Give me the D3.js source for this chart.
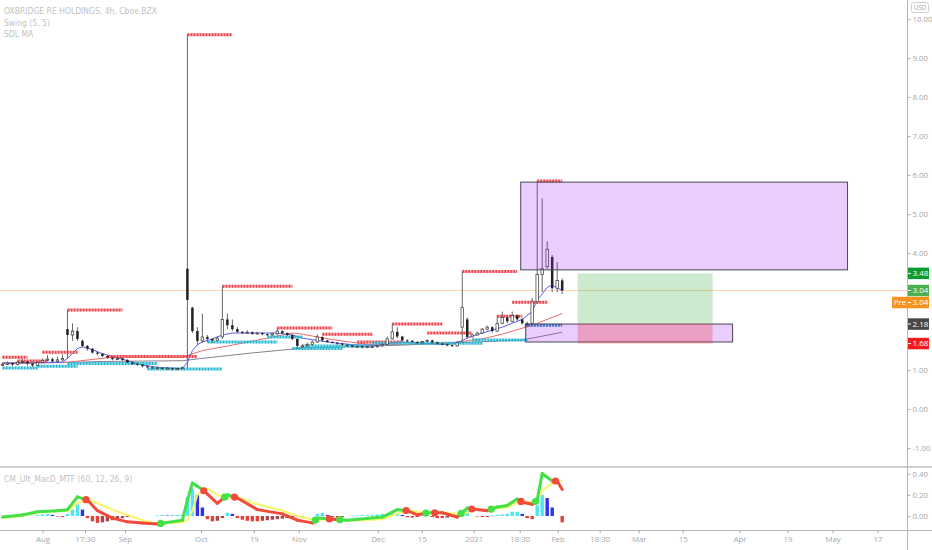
<!DOCTYPE html>
<html><head><meta charset="utf-8">
<script src="https://cdn.jsdelivr.net/npm/d3@7"></script>
<style>
body{margin:0;background:#fff}
svg{display:block}
text{font-family:"Open Sans","Noto Sans",sans-serif}
</style>
</head><body>
<svg id="c" width="932" height="550"></svg>
<script>
// ---------- DATA ----------
const titleLines = ["OXBRIDGE RE HOLDINGS, 4h, Cboe BZX", "Swing (5, 5)", "SDL MA"];
const macdTitle = "CM_Ult_MacD_MTF (60, 12, 26, 9)";

const opens = [1.12,1.15,1.18,1.14,1.2,1.22,1.17,1.12,1.2,1.25,
1.28,1.22,1.26,2.05,1.9,2.0,1.75,1.62,1.55,1.45,
1.42,1.36,1.32,1.28,1.3,1.26,1.2,1.16,1.14,1.1,
1.07,1.05,1.06,1.04,1.05,1.02,1.04,3.6,2.6,2.0,
1.75,1.85,1.8,1.76,1.85,2.3,2.15,2.05,1.98,1.95,
1.97,1.93,1.95,1.92,1.9,1.93,2.0,1.95,1.9,1.8,
1.62,1.62,1.66,1.72,1.85,1.76,1.72,1.7,1.68,1.65,
1.63,1.6,1.61,1.58,1.6,1.6,1.62,1.66,1.8,1.98,
1.86,1.76,1.75,1.72,1.7,1.73,1.76,1.71,1.68,1.66,
1.64,1.62,2.1,2.3,1.85,1.9,1.95,2.05,2.1,2.0,
2.2,2.35,2.25,2.4,2.3,2.2,2.2,2.75,3.45,3.65,
3.9,3.1,3.3];
const highs = [1.2,1.22,1.2,1.24,1.28,1.24,1.2,1.24,1.3,1.38,
1.32,1.34,1.4,2.54,2.2,2.1,1.78,1.64,1.56,1.48,
1.44,1.38,1.34,1.34,1.32,1.28,1.22,1.2,1.16,1.12,
1.1,1.09,1.08,1.08,1.07,1.06,1.09,9.6,2.62,2.1,
2.45,1.9,1.82,1.86,3.15,2.45,2.3,2.1,2.0,2.02,
1.99,1.98,1.97,1.94,1.96,2.08,2.02,1.97,1.92,1.82,
1.66,1.7,1.76,1.92,1.86,1.78,1.74,1.72,1.7,1.67,
1.65,1.64,1.63,1.62,1.63,1.65,1.68,1.86,2.2,2.1,
1.88,1.79,1.77,1.74,1.75,1.79,1.78,1.73,1.7,1.68,
1.66,1.74,3.53,2.35,1.94,1.98,2.08,2.14,2.12,2.4,
2.5,2.38,2.5,2.43,2.33,2.24,2.85,5.85,5.4,4.3,
3.95,3.77,3.35];
const lows = [1.1,1.13,1.1,1.12,1.17,1.12,1.08,1.1,1.18,1.22,
1.18,1.2,1.24,1.3,1.75,1.75,1.58,1.5,1.42,1.38,
1.33,1.29,1.25,1.26,1.23,1.17,1.13,1.11,1.07,1.04,
1.02,1.03,1.01,1.02,0.99,1.0,1.02,1.05,1.95,1.65,
1.7,1.72,1.7,1.74,1.8,2.05,2.0,1.95,1.92,1.93,
1.9,1.91,1.89,1.87,1.88,1.9,1.92,1.87,1.77,1.55,
1.56,1.6,1.64,1.7,1.74,1.7,1.68,1.65,1.63,1.6,
1.57,1.58,1.55,1.56,1.57,1.58,1.6,1.64,1.78,1.82,
1.73,1.72,1.69,1.67,1.68,1.71,1.68,1.65,1.63,1.61,
1.59,1.6,1.7,1.8,1.83,1.88,1.93,2.02,1.96,1.98,
2.18,2.2,2.22,2.26,2.17,2.1,2.15,2.7,3.0,3.6,
3.0,3.0,2.95];
const closes = [1.15,1.18,1.14,1.2,1.22,1.17,1.12,1.2,1.25,1.28,
1.22,1.26,1.3,1.9,2.0,1.8,1.62,1.55,1.45,1.42,
1.36,1.32,1.28,1.3,1.26,1.2,1.16,1.14,1.1,1.07,
1.05,1.06,1.04,1.05,1.02,1.04,1.06,2.8,2.0,1.75,
1.85,1.8,1.76,1.82,2.3,2.15,2.05,1.98,1.95,1.97,
1.93,1.95,1.92,1.9,1.93,2.0,1.95,1.9,1.8,1.62,
1.62,1.66,1.72,1.85,1.76,1.72,1.7,1.68,1.65,1.63,
1.6,1.61,1.58,1.6,1.6,1.62,1.66,1.8,1.98,1.86,
1.76,1.75,1.72,1.7,1.73,1.76,1.71,1.68,1.66,1.64,
1.62,1.7,2.6,1.85,1.9,1.95,2.05,2.1,2.0,2.2,
2.35,2.25,2.4,2.3,2.2,2.15,2.75,3.45,3.6,4.1,
3.1,3.3,3.04];

// moving averages: [bar, value]
const fastMA = [[0,1.18],[12,1.2],[13,1.3],[15,1.55],[16,1.6],[18,1.52],[20,1.42],[22,1.35],[24,1.28],[26,1.2],[28,1.13],[30,1.09],[32,1.06],[36,1.04],[37,1.2],[38,1.5],[39,1.65],[40,1.72],[42,1.8],[44,1.9],[46,1.95],[55,1.95],[58,1.9],[60,1.82],[62,1.78],[65,1.72],[70,1.65],[75,1.63],[78,1.7],[80,1.72],[85,1.68],[89,1.65],[92,1.75],[93,1.83],[96,1.95],[100,2.1],[102,2.2],[104,2.3],[106,2.5],[107,2.8],[108,2.95],[109,3.12],[110,3.18],[111,3.1],[112,3.05]];
const midMA = [[0,1.18],[13,1.2],[22,1.33],[36,1.33],[40,1.5],[46,1.64],[53,1.82],[58,1.95],[60,1.92],[66,1.78],[73,1.66],[80,1.66],[90,1.7],[96,1.8],[100,1.92],[106,2.15],[112,2.45]];
const slowMA = [[0,1.16],[20,1.22],[36,1.24],[40,1.3],[50,1.44],[60,1.56],[80,1.64],[104,1.77],[112,1.97]];

// swing levels
const swingHighFrom  = [0,3,8,13,21,37,44,55,64,71,78,85,92,99,102,107];
const swingHighTo    = [5,9,15,24,39,46,58,66,74,80,88,94,103,104,109,112];
const swingHighPrice = [1.33,1.23,1.46,2.54,1.35,9.6,3.15,2.08,1.92,1.72,2.18,1.95,3.53,2.38,2.74,5.85];
const swingLowFrom  = [0,7,13,29,41,53,58,60,74,94,104.5];
const swingLowTo    = [7,15,31,44,55,60,68,74,96,105,112];
const swingLowPrice = [1.05,1.1,1.17,1.03,1.72,1.85,1.55,1.62,1.69,1.77,2.15];

// drawings
const zoneFrom = [103.7,104.7], zoneTo = [169.1,146.1], zoneHigh = [5.82,2.18], zoneLow = [3.57,1.72];
const posFrom = 115.1, posTo = 142.1, posEntry = 2.19, posTarget = 3.48, posStop = 1.68;
const lastPrice = 3.04;
const markerValues = [3.48, 3.04, 3.04, 2.18, 1.68];
const markerTags   = ["", "", "Pre", "", ""];

// MACD indicator: [bar, value]
const macdLine = [[0,-0.01],[4,0.01],[7,0.04],[11,0.05],[13,0.06],[15,0.18],[17,0.15],[19,0.05],[22,-0.02],[25,-0.055],[31,-0.075],[36,-0.04],[37,0.15],[38,0.31],[40,0.25],[43,0.12],[44,0.16],[45,0.2],[47,0.17],[51,0.06],[56,0.02],[59,-0.04],[62,-0.065],[63,-0.02],[66,-0.03],[69,-0.04],[76,-0.01],[79,0.06],[81,0.05],[83,0.01],[85,0.03],[88,0.03],[91,-0.01],[93,0.075],[94,0.065],[97,0.05],[99,0.085],[101,0.1],[103,0.16],[104,0.13],[106,0.11],[107,0.15],[108,0.4],[110,0.33],[111,0.33],[112,0.25]];
const signalLine = [[0,-0.02],[4,0.0],[7,0.03],[11,0.045],[13,0.05],[15,0.12],[17,0.16],[19,0.12],[22,0.06],[25,0.01],[28,-0.04],[31,-0.072],[36,-0.06],[37,-0.04],[38,0.05],[39,0.2],[41,0.26],[43,0.2],[44,0.18],[45,0.175],[47,0.18],[51,0.11],[56,0.05],[59,0.0],[62,-0.035],[63,-0.04],[66,-0.025],[69,-0.045],[76,-0.03],[79,0.02],[81,0.055],[83,0.04],[85,0.025],[88,0.035],[91,0.02],[93,0.03],[94,0.07],[97,0.06],[99,0.07],[101,0.08],[103,0.13],[104,0.14],[106,0.13],[107,0.14],[108,0.24],[110,0.31],[111,0.34],[112,0.33]];
const histValues = [0,0,0,0,0,0,0,0.01,0.015,0.02,
0.01,-0.005,-0.01,0.02,0.06,0.11,0.06,-0.02,-0.05,-0.065,
-0.06,-0.05,-0.04,-0.03,-0.02,-0.01,-0.005,0,0,0,
0,0.005,0.01,0.005,0.01,0.01,0.015,0.18,0.26,0.2,
0.08,-0.03,-0.05,-0.045,-0.02,0.03,0.02,-0.02,-0.035,-0.045,
-0.05,-0.05,-0.045,-0.04,-0.035,-0.03,-0.025,-0.02,-0.01,-0.01,
-0.005,0,0,0.02,0.03,0.01,-0.01,-0.015,-0.01,0,
0.005,0.005,0.01,0.01,0.01,0.015,0.02,0.02,0.025,0.03,
0.01,-0.01,-0.015,-0.01,0.005,0.01,-0.01,-0.02,-0.02,-0.015,
-0.01,-0.005,0.04,0.05,0,-0.005,-0.01,-0.01,0.005,0.01,
0.015,0.02,0.04,0.04,0.02,-0.02,-0.03,0.1,0.2,0.17,
0.08,0,-0.06];

const priceTicks = [-1,0,1,2,3,4,5,6,7,8,9,10];
const macdTicks = [0,0.2,0.4];
const timeTickBars = [8,16.5,24.5,39.7,50.3,59.3,75.1,83.9,94.3,103.5,111.1,119.5,127.3,136.1,147.5,157.1,166.1,175.1];
const timeTickLabels = ["Aug","17:30","Sep","Oct","19","Nov","Dec","15","2021","18:30","Feb","18:30","Mar","15","Apr","19","May","17"];

// ---------- LAYOUT ----------
const W = 932, H = 550, axisX = 907, mainBottom = 466, sepY = 467, timeY = 530;
const svg = d3.select("#c");
const x = d3.scaleLinear().domain([-0.5, 181]).range([0, axisX]);
const y = d3.scaleLinear().domain([-1.46, 10.49]).range([mainBottom, 0]);
const ym = d3.scaleLinear().domain([-0.132, 0.462]).range([timeY, sepY]);

const defs = svg.append("defs");
defs.append("clipPath").attr("id","mainClip").append("rect").attr("x",0).attr("y",0).attr("width",axisX).attr("height",mainBottom);
defs.append("clipPath").attr("id","macdClip").append("rect").attr("x",0).attr("y",sepY+1).attr("width",axisX).attr("height",timeY-sepY-1);

const main = svg.append("g").attr("clip-path","url(#mainClip)");

// last price line
main.append("line").attr("x1",0).attr("x2",axisX).attr("y1",y(lastPrice)).attr("y2",y(lastPrice))
  .attr("stroke","#f7b27a").attr("stroke-width",1).attr("opacity",0.55);

// moving averages
const maLine = d3.line().x(d=>x(d[0])).y(d=>y(d[1]));
[[slowMA,"#8c7f92"],[midMA,"#f06a6a"],[fastMA,"#5c5cf0"]].forEach(([data,col])=>{
  main.append("path").attr("d",maLine(data)).attr("fill","none").attr("stroke",col).attr("stroke-width",1);
});

// swing levels
function swing(from,to,price,col){
  main.append("g").selectAll("line").data(price).join("line")
    .attr("x1",(d,i)=>x(from[i])).attr("x2",(d,i)=>x(to[i]))
    .attr("y1",d=>y(d)).attr("y2",d=>y(d))
    .attr("stroke",(d,i)=>typeof col==="function"?col(i):col).attr("stroke-width",3).attr("stroke-dasharray","2.2,0.8");
}
swing(swingHighFrom,swingHighTo,swingHighPrice,"#f0424a");
swing(swingLowFrom,swingLowTo,swingLowPrice,i=>i===swingLowPrice.length-1?"#1d8fc6":"#22b8d2");

// candles
const candles = closes.map((c,i)=>({i,o:opens[i],h:highs[i],l:lows[i],c}));
const cg = main.append("g");
cg.selectAll("line").data(candles).join("line")
  .attr("x1",d=>x(d.i)).attr("x2",d=>x(d.i)).attr("y1",d=>y(d.h)).attr("y2",d=>y(d.l))
  .attr("stroke","#666").attr("stroke-width",1);
cg.selectAll("rect").data(candles).join("rect")
  .attr("x",d=>x(d.i)-1.25).attr("width",2.5)
  .attr("y",d=>y(Math.max(d.o,d.c)))
  .attr("height",d=>Math.max(1,Math.abs(y(d.o)-y(d.c))))
  .attr("fill",d=>d.c>=d.o?"#ffffff":"#222")
  .attr("stroke","#333").attr("stroke-width",d=>d.c>=d.o?0.7:0);

// zones
main.append("g").selectAll("rect").data(zoneHigh).join("rect")
  .attr("x",(d,i)=>x(zoneFrom[i])).attr("width",(d,i)=>x(zoneTo[i])-x(zoneFrom[i]))
  .attr("y",d=>y(d)).attr("height",(d,i)=>y(zoneLow[i])-y(d))
  .attr("fill","rgba(156,40,245,0.23)").attr("stroke","#4d4557").attr("stroke-width",1);

// position tool
main.append("rect").attr("x",x(posFrom)).attr("width",x(posTo)-x(posFrom))
  .attr("y",y(posTarget)).attr("height",y(posEntry)-y(posTarget)).attr("fill","rgba(76,175,80,0.28)");
main.append("rect").attr("x",x(posFrom)).attr("width",x(posTo)-x(posFrom))
  .attr("y",y(posEntry)).attr("height",y(posStop)-y(posEntry)).attr("fill","rgba(242,54,69,0.3)");

// ---------- MACD PANEL ----------
const mp = svg.append("g").attr("clip-path","url(#macdClip)");
const histData = histValues.map((v,i)=>({i,v,prev:i>0?histValues[i-1]:0}));
mp.append("g").selectAll("rect").data(histData.filter(d=>d.v!==0)).join("rect")
  .attr("x",d=>x(d.i)-1.7).attr("width",3.4)
  .attr("y",d=>ym(Math.max(0,d.v))).attr("height",d=>Math.abs(ym(d.v)-ym(0)))
  .attr("fill",d=> d.v>0 ? (d.v>=d.prev?"#4ee6f2":"#3030f0") : (d.v<=d.prev?"#e5403a":"#a84848"));

// signal
mp.append("path").attr("d",d3.line().x(d=>x(d[0])).y(d=>ym(d[1]))(signalLine))
  .attr("fill","none").attr("stroke","#fbf56a").attr("stroke-width",2);

// macd line colored vs signal
const macdAt = d3.scaleLinear().domain(macdLine.map(d=>d[0])).range(macdLine.map(d=>d[1]));
const sigAt = d3.scaleLinear().domain(signalLine.map(d=>d[0])).range(signalLine.map(d=>d[1]));
const bars = Array.from(new Set(macdLine.map(d=>d[0]).concat(signalLine.map(d=>d[0])))).sort((a,b)=>a-b);
const segs = [], crosses = [];
for (let k=0;k<bars.length-1;k++){
  const a=bars[k], b=bars[k+1];
  const ma=macdAt(a), mb=macdAt(b), da=ma-sigAt(a), db=mb-sigAt(b);
  if ((da>=0)!==(db>=0)){
    const t = da/(da-db), bc=a+(b-a)*t, mc=ma+(mb-ma)*t;
    segs.push({p:[[a,ma],[bc,mc]],up:da>=0});
    segs.push({p:[[bc,mc],[b,mb]],up:db>=0});
    crosses.push({b:bc,v:mc,up:db>=0});
  } else segs.push({p:[[a,ma],[b,mb]],up:da>=0});
}
const ml = d3.line().x(d=>x(d[0])).y(d=>ym(d[1]));
mp.append("g").selectAll("path").data(segs).join("path")
  .attr("d",d=>ml(d.p)).attr("fill","none").attr("stroke-linecap","round")
  .attr("stroke",d=>d.up?"#45e045":"#f24b3b").attr("stroke-width",3);
mp.append("g").selectAll("circle").data(crosses).join("circle")
  .attr("cx",d=>x(d.b)).attr("cy",d=>ym(d.v)).attr("r",3.6)
  .attr("fill",d=>d.up?"#45e045":"#f24b3b");

// ---------- FRAME / AXES ----------
svg.append("line").attr("x1",0).attr("x2",W).attr("y1",sepY).attr("y2",sepY).attr("stroke","#cfcfcf").attr("stroke-width",2);
svg.append("line").attr("x1",0).attr("x2",W).attr("y1",timeY+0.5).attr("y2",timeY+0.5).attr("stroke","#b8b8b8").attr("stroke-width",1);
svg.append("line").attr("x1",axisX+0.5).attr("x2",axisX+0.5).attr("y1",0).attr("y2",H).attr("stroke","#b8b8b8").attr("stroke-width",1);

const fmt = v => (v<0?"-":"") + Math.abs(v).toFixed(2);
function styleAxis(g){
  g.select(".domain").remove();
  g.selectAll(".tick line").attr("stroke","#b0b0b0");
  g.selectAll(".tick text").attr("fill","#a6a6a6").style("font-size","7.8px").style("font-family","'Open Sans',sans-serif");
}
// hide tick labels that sit under a price marker
const hidden = priceTicks.filter(t=>markerValues.some(m=>Math.abs(y(t)-y(m))<10));
svg.append("g").attr("transform",`translate(${axisX+0.5},0)`)
  .call(d3.axisRight(y).tickValues(priceTicks.filter(t=>!hidden.includes(t))).tickFormat(fmt).tickSize(3).tickPadding(2)).call(styleAxis);
svg.append("g").attr("transform",`translate(${axisX+0.5},0)`)
  .call(d3.axisRight(ym).tickValues(macdTicks).tickFormat(fmt).tickSize(3).tickPadding(2)).call(styleAxis);
svg.append("g").attr("transform",`translate(0,${timeY+0.5})`)
  .call(d3.axisBottom(x).tickValues(timeTickBars).tickFormat((d,i)=>timeTickLabels[i]).tickSize(3).tickPadding(3)).call(styleAxis);

// USD box
svg.append("rect").attr("x",911.5).attr("y",2.5).attr("width",17).attr("height",10).attr("rx",2)
  .attr("fill","#fff").attr("stroke","#cfcfcf");
svg.append("text").attr("x",920).attr("y",10.2).attr("text-anchor","middle").attr("fill","#a6a6a6")
  .style("font-size","6.5px").text("USD");

// price markers
const markerColors = ["#0b9d2d","#4caf50","#f7931e","#484848","#f21c1c"];
let lastBottom = -1e9; const bh = 11.5;
markerValues.forEach((v,i)=>{
  let top = y(v) - bh/2;
  if (top < lastBottom + 0.5) top = lastBottom + 0.5;
  lastBottom = top + bh;
  const g = svg.append("g");
  g.append("rect").attr("x",axisX+1).attr("y",top).attr("width",21).attr("height",bh).attr("fill",markerColors[i]);
  g.append("line").attr("x1",axisX+1).attr("x2",axisX+4).attr("y1",top+bh/2).attr("y2",top+bh/2).attr("stroke","#fff").attr("stroke-width",1);
  g.append("text").attr("x",axisX+5.5).attr("y",top+8.6).attr("fill","#fff").style("font-size","8px").text(v.toFixed(2));
  if (markerTags[i]) {
    g.append("rect").attr("x",axisX-15).attr("y",top).attr("width",16).attr("height",bh).attr("fill",markerColors[i]);
    g.append("text").attr("x",axisX-7).attr("y",top+8.6).attr("text-anchor","middle").attr("fill","#fff").style("font-size","7.5px").text(markerTags[i]);
  }
});

// titles
const titleFont = "'Liberation Sans Narrow','DejaVu Sans Condensed','Open Sans',sans-serif";
svg.append("g").selectAll("text").data(titleLines).join("text")
  .attr("x",4).attr("y",(d,i)=>14+i*11.5).attr("fill","#c2c2c2")
  .style("font-size","8.5px").style("font-family",titleFont).text(d=>d);
svg.append("text").attr("x",4).attr("y",482).attr("fill","#c2c2c2")
  .style("font-size","8.5px").style("font-family",titleFont).text(macdTitle);
</script>
</body></html>
